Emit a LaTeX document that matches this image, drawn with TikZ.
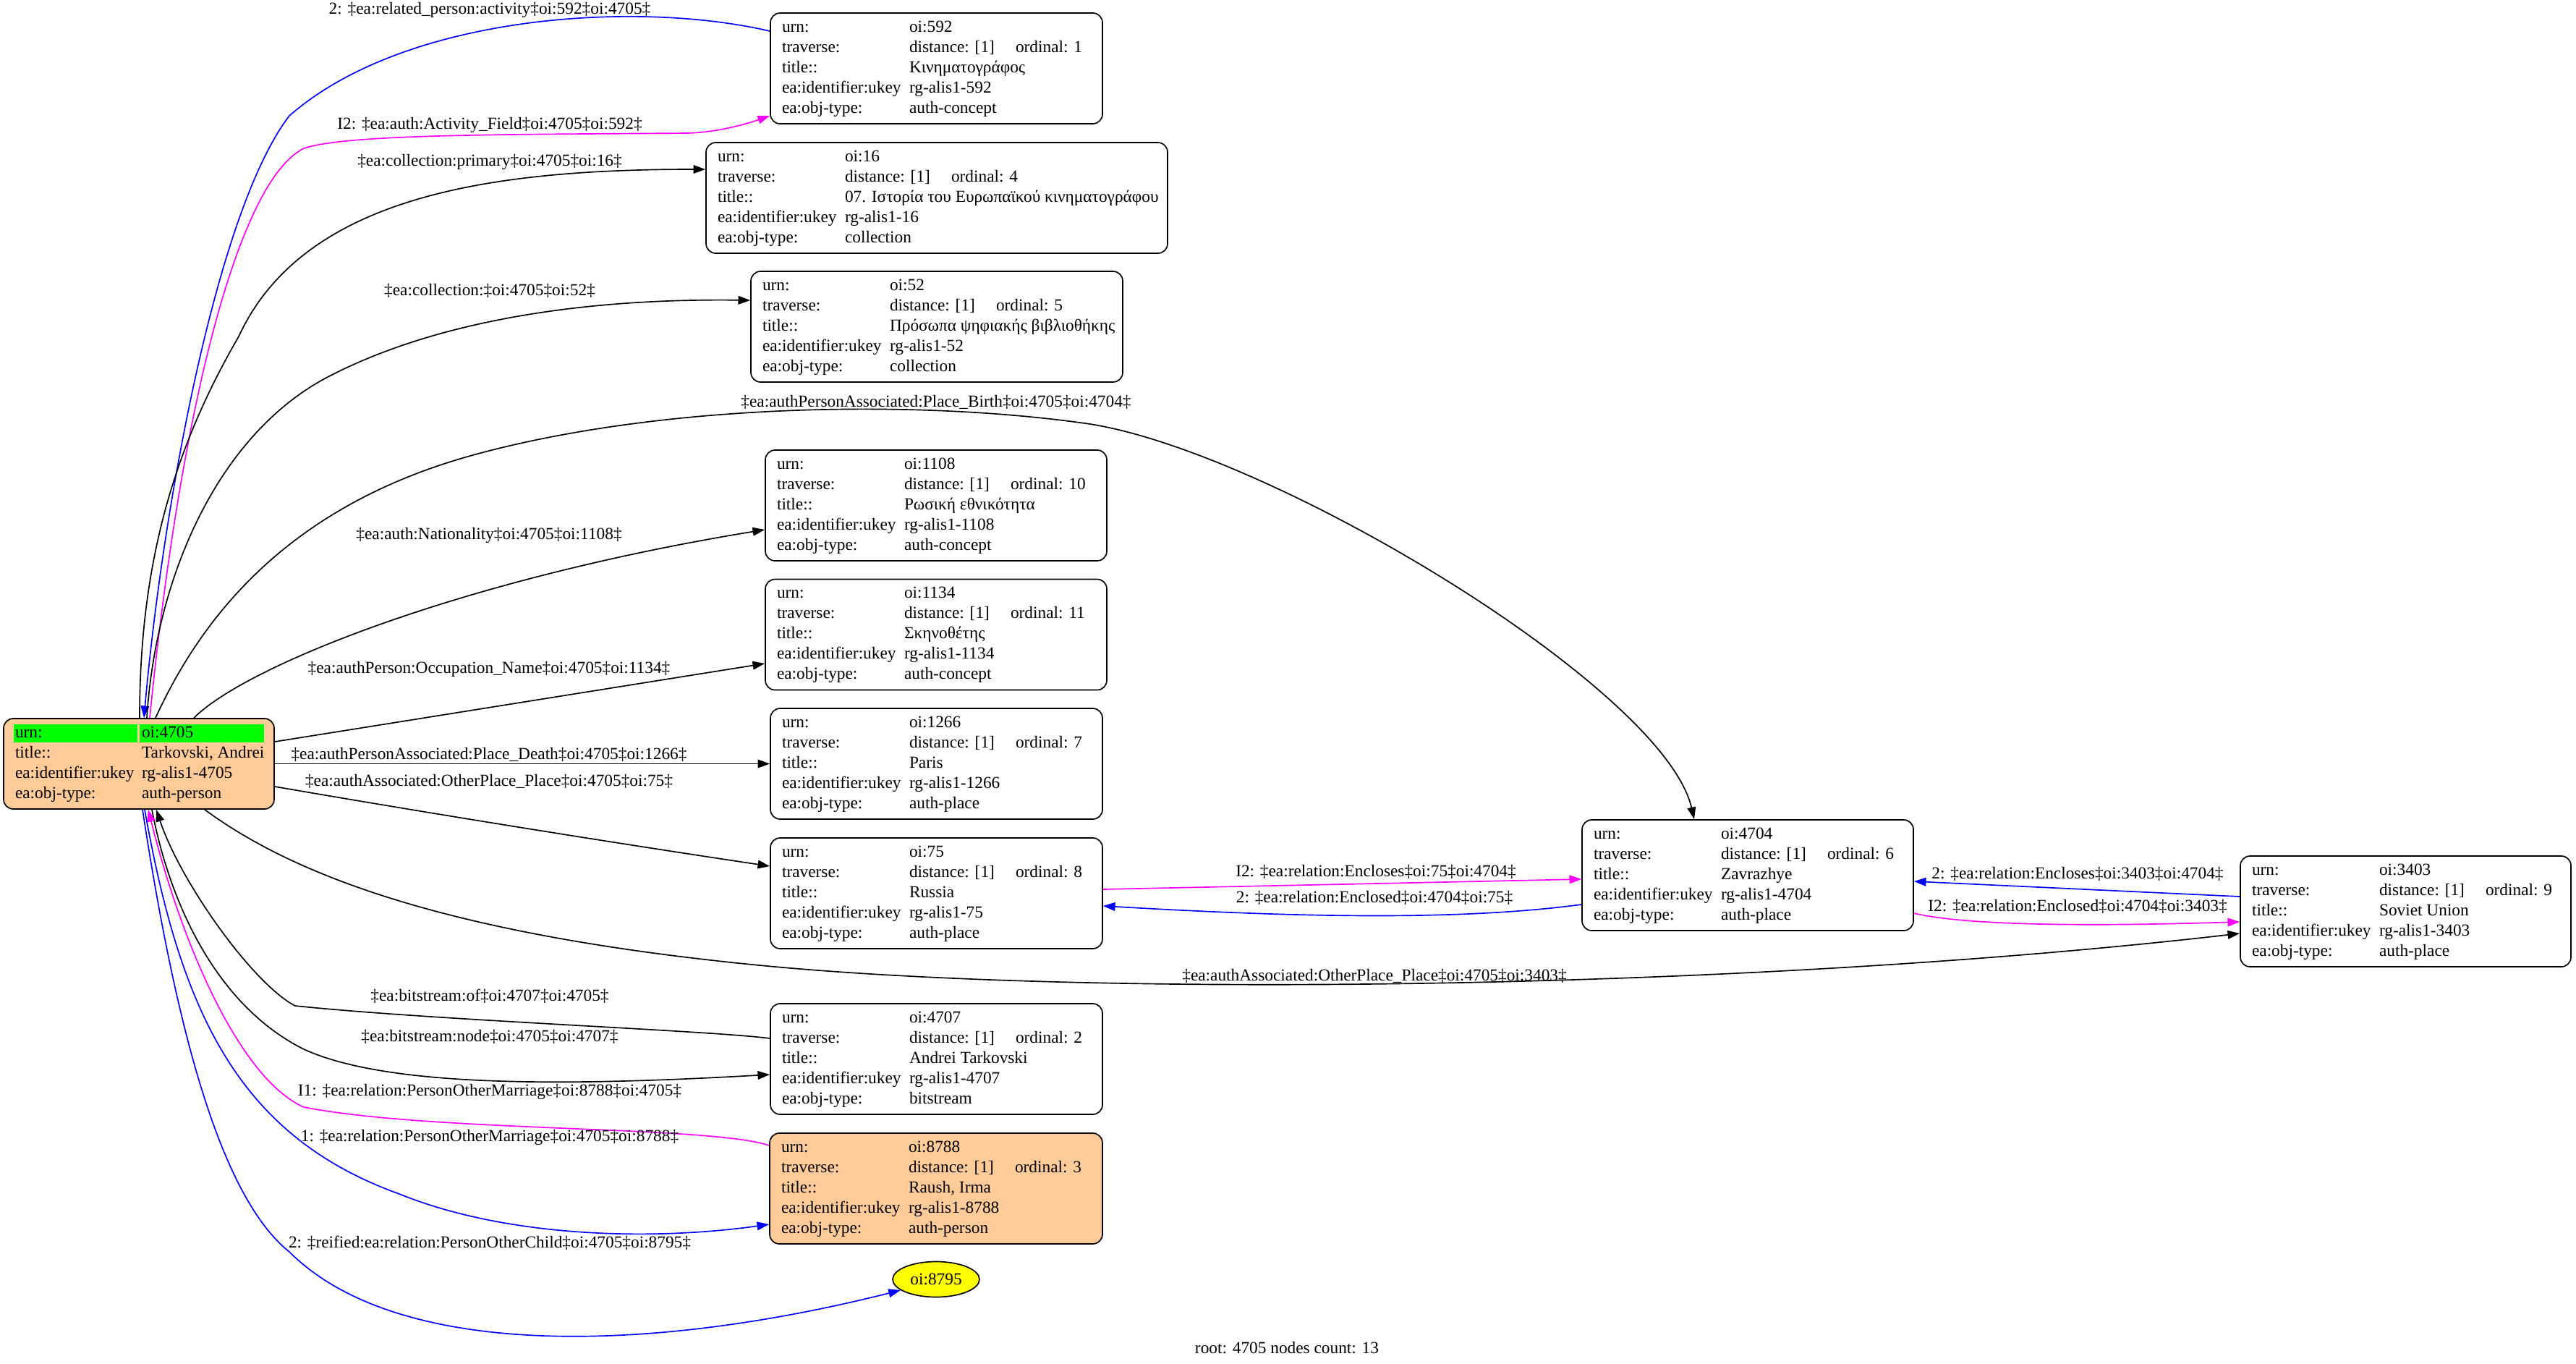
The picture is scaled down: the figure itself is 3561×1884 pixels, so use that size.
\documentclass[tikz,border=0pt]{standalone}
\usepackage{fontspec}
\setmainfont{Liberation Serif}
\usetikzlibrary{arrows.meta,shapes.geometric}
\definecolor{peach}{HTML}{FFCC99}
\definecolor{gvgreen}{HTML}{00FF00}
\definecolor{gvblue}{HTML}{0000FF}
\definecolor{gvmag}{HTML}{FF00FF}
\definecolor{gvyellow}{HTML}{FFFF00}
\newcommand\recbody[5]{%
\begin{tabular}{@{}p{105.6pt}@{}l@{}}
urn: & #1\\
traverse: & \makebox[88.2pt][l]{distance: [1]}ordinal: #2\\
title:: & #3\\
ea:identifier:ukey & #4\\
ea:obj-type: & #5
\end{tabular}}
\newcommand\recbox[6]{\parbox{#1}{\hspace*{9.6pt}\recbody{#2}{#3}{#4}{#5}{#6}}}
\begin{document}
\begin{tikzpicture}[x=0.6pt,y=-0.6pt,
  font=\fontsize{14pt}{16.8pt}\selectfont,
  rec/.style={draw, line width=1pt, rounded corners=8pt, inner sep=0pt, minimum height=91.8pt, fill=white},
  e/.style={line width=1pt, -{Triangle[length=10pt,width=7pt]}},
  eb/.style={e, gvblue},
  em/.style={e, gvmag},
  lbl/.style={inner sep=0pt}]
\fill[white] (0,0) rectangle (3561,1884);
\useasboundingbox (0,0) rectangle (3561,1884);

% root
\node[rec, fill=peach, minimum height=75pt,
  path picture={
    \fill[gvgreen, sharp corners] ([shift={(14,8)}]path picture bounding box.north west) rectangle ([shift={(185,33)}]path picture bounding box.north west);
    \fill[gvgreen, sharp corners] ([shift={(188,8)}]path picture bounding box.north west) rectangle ([shift={(360,33)}]path picture bounding box.north west);
  }] (root) at (192,1055.5)
  {\parbox{224.4pt}{\hspace*{9.6pt}\begin{tabular}{@{}p{105pt}@{}l@{}}
  urn: & oi:4705\\
  title:: & Tarkovski, Andrei\\
  ea:identifier:ukey & rg-alis1-4705\\
  ea:obj-type: & auth-person
  \end{tabular}}};

\node[rec] (n592) at (1294.5,94.5) {\recbox{275.4pt}{oi:592}{1}{Κινηματογράφος}{rg-alis1-592}{auth-concept}};
\node[rec] (n16) at (1295,273.5) {\recbox{382.8pt}{oi:16}{4}{07. Ιστορία του Ευρωπαϊκού κινηματογράφου}{rg-alis1-16}{collection}};
\node[rec] (n52) at (1295,451.5) {\recbox{308.4pt}{oi:52}{5}{Πρόσωπα ψηφιακής βιβλιοθήκης}{rg-alis1-52}{collection}};
\node[rec] (n1108) at (1294,698.5) {\recbox{283.2pt}{oi:1108}{10}{Ρωσική εθνικότητα}{rg-alis1-1108}{auth-concept}};
\node[rec] (n1134) at (1294,877) {\recbox{283.2pt}{oi:1134}{11}{Σκηνοθέτης}{rg-alis1-1134}{auth-concept}};
\node[rec] (n1266) at (1294.5,1055.5) {\recbox{275.4pt}{oi:1266}{7}{Paris}{rg-alis1-1266}{auth-place}};
\node[rec] (n75) at (1294.5,1234.5) {\recbox{275.4pt}{oi:75}{8}{Russia}{rg-alis1-75}{auth-place}};
\node[rec] (n4707) at (1294.5,1463.5) {\recbox{275.4pt}{oi:4707}{2}{Andrei Tarkovski}{rg-alis1-4707}{bitstream}};
\node[rec, fill=peach] (n8788) at (1294,1642.5) {\recbox{276pt}{oi:8788}{3}{Raush, Irma}{rg-alis1-8788}{auth-person}};
\node[ellipse, draw, line width=1pt, fill=gvyellow, minimum width=72pt, minimum height=29.4pt, inner sep=0pt] (n8795) at (1294,1768) {oi:8795};
\node[rec] (n4704) at (2416,1209.5) {\recbox{274.8pt}{oi:4704}{6}{Zavrazhye}{rg-alis1-4704}{auth-place}};
\node[rec] (n3403) at (3325.5,1259.5) {\recbox{274.2pt}{oi:3403}{9}{Soviet Union}{rg-alis1-3403}{auth-place}};

% edges
\draw[eb] ([shift={(0,-51.5)}]n592.west) .. controls (880,0) and (560,20) .. (400,160) .. controls (300,290) and (225,700) .. ([shift={(7,0)}]root.north);
\draw[em] ([shift={(15,0)}]root.north) .. controls (250,560) and (330,250) .. (420,205) .. controls (480,185) and (700,186) .. (950,184) .. controls (990,183) and (1030,172) .. ([shift={(0,65.5)}]n592.west);
\draw[e] ([shift={(1,0)}]root.north) .. controls (193,780) and (240,620) .. (330,465) .. controls (420,270) and (680,234) .. ([shift={(0,-39.5)}]n16.west);
\draw[e] ([shift={(11,0)}]root.north) .. controls (215,800) and (300,600) .. (455,520) .. controls (600,445) and (800,412) .. ([shift={(0,-36.5)}]n52.west);
\draw[e] ([shift={(23,0)}]root.north) .. controls (280,850) and (400,700) .. (650,630) .. controls (900,560) and (1250,550) .. (1500,585) .. controls (1750,620) and (2300,950) .. ([shift={(-74,0)}]n4704.north);
\draw[e] ([shift={(76,0)}]root.north) .. controls (340,920) and (640,800) .. ([shift={(0,33.5)}]n1108.west);
\draw[e] ([shift={(0,-30.5)}]root.east) .. controls (600,990) and (850,950) .. ([shift={(0,40)}]n1134.west);
\draw[e] (root.east) -- (n1266.west);
\draw[e] ([shift={(0,31.5)}]root.east) .. controls (600,1125) and (850,1165) .. ([shift={(0,-37.5)}]n75.west);
\draw[e] ([shift={(91,0)}]root.south) .. controls (420,1220) and (650,1295) .. (1050,1334) .. controls (1500,1378) and (2400,1370) .. ([shift={(0,30.5)}]n3403.west);
\draw[e] ([shift={(0,-28.5)}]n4707.west) .. controls (980,1424) and (600,1410) .. (408,1390) .. controls (350,1360) and (250,1220) .. ([shift={(24,0)}]root.south);
\draw[e] ([shift={(18,0)}]root.south) .. controls (235,1250) and (300,1390) .. (420,1450) .. controls (540,1505) and (800,1500) .. ([shift={(0,21.5)}]n4707.west);
\draw[em] ([shift={(0,-59.5)}]n8788.west) .. controls (980,1555) and (600,1565) .. (420,1530) .. controls (330,1490) and (250,1300) .. ([shift={(13,0)}]root.south);
\draw[eb] ([shift={(8,0)}]root.south) .. controls (250,1400) and (330,1570) .. (552,1650) .. controls (700,1710) and (900,1715) .. ([shift={(0,49.5)}]n8788.west);
\draw[eb] ([shift={(5,0)}]root.south) .. controls (240,1400) and (300,1650) .. (400,1730) .. controls (550,1880) and (900,1870) .. (n8795.197);
\draw[em] ([shift={(0,-5.5)}]n75.east) -- ([shift={(0,5.5)}]n4704.west);
\draw[eb] ([shift={(0,40.5)}]n4704.west) .. controls (2000,1275) and (1750,1265) .. ([shift={(0,17.5)}]n75.east);
\draw[eb] ([shift={(0,-20.5)}]n3403.west) -- ([shift={(0,8.5)}]n4704.east);
\draw[em] ([shift={(0,52.5)}]n4704.east) .. controls (2720,1280) and (2900,1280) .. ([shift={(0,14.5)}]n3403.west);

% labels
\node[lbl] (l1) at (677,14) {2: ‡ea:related\_person:activity‡oi:592‡oi:4705‡};
\node[lbl] (l2) at (677,173) {I2: ‡ea:auth:Activity\_Field‡oi:4705‡oi:592‡};
\node[lbl] (l3) at (677,224) {‡ea:collection:primary‡oi:4705‡oi:16‡};
\node[lbl] (l4) at (677,402) {‡ea:collection:‡oi:4705‡oi:52‡};
\node[lbl] (l5) at (1294,556) {‡ea:authPersonAssociated:Place\_Birth‡oi:4705‡oi:4704‡};
\node[lbl] (l6) at (676,740) {‡ea:auth:Nationality‡oi:4705‡oi:1108‡};
\node[lbl] (l7) at (676,925) {‡ea:authPerson:Occupation\_Name‡oi:4705‡oi:1134‡};
\node[lbl] (l8) at (676,1043) {‡ea:authPersonAssociated:Place\_Death‡oi:4705‡oi:1266‡};
\node[lbl] (l9) at (676,1080) {‡ea:authAssociated:OtherPlace\_Place‡oi:4705‡oi:75‡};
\node[lbl] (l10) at (677,1377) {‡ea:bitstream:of‡oi:4707‡oi:4705‡};
\node[lbl] (l11) at (677,1433) {‡ea:bitstream:node‡oi:4705‡oi:4707‡};
\node[lbl] (l12) at (677,1509) {I1: ‡ea:relation:PersonOtherMarriage‡oi:8788‡oi:4705‡};
\node[lbl] (l13) at (677,1572) {1: ‡ea:relation:PersonOtherMarriage‡oi:4705‡oi:8788‡};
\node[lbl] (l14) at (677,1718) {2: ‡reified:ea:relation:PersonOtherChild‡oi:4705‡oi:8795‡};
\node[lbl] (l15) at (1902,1205) {I2: ‡ea:relation:Encloses‡oi:75‡oi:4704‡};
\node[lbl] (l16) at (1900,1241) {2: ‡ea:relation:Enclosed‡oi:4704‡oi:75‡};
\node[lbl] (l17) at (2872,1208) {2: ‡ea:relation:Encloses‡oi:3403‡oi:4704‡};
\node[lbl] (l18) at (2872,1253) {I2: ‡ea:relation:Enclosed‡oi:4704‡oi:3403‡};
\node[lbl] (l19) at (1900,1349) {‡ea:authAssociated:OtherPlace\_Place‡oi:4705‡oi:3403‡};
\node[lbl] (cap) at (1779,1863) {root: 4705 nodes count: 13};
\end{tikzpicture}
\end{document}
